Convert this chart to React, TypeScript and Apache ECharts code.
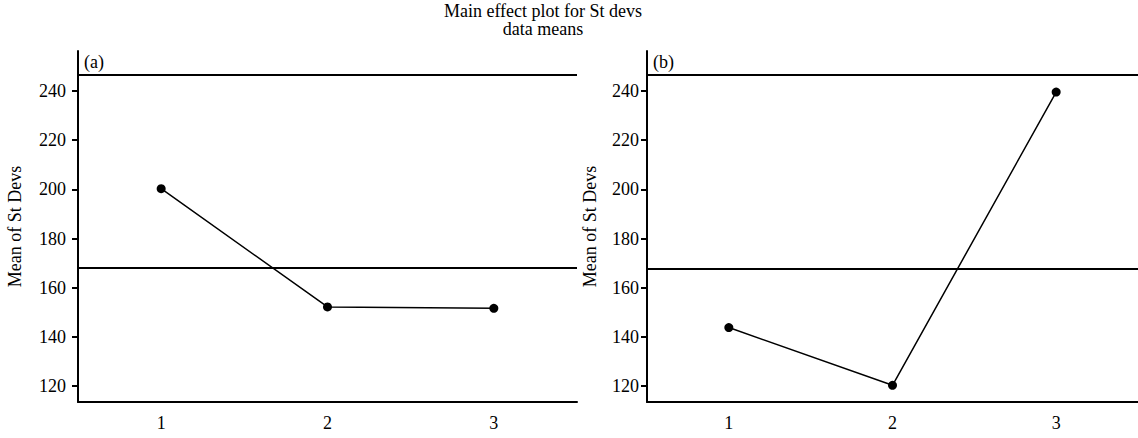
import React, { useEffect, useRef } from "react";
import * as echarts from "echarts";

const categories = ["1", "2", "3"];
const valuesA = [200.3, 152.2, 151.6];
const valuesB = [143.8, 120.3, 239.6];
const yTicks = [120, 140, 160, 180, 200, 220, 240];
const yMin = 113.5;
const yMax = 256.3;
const stripValue = 246.6;
const panelLabels = ["(a)", "(b)"];
const titleLines = ["Main effect plot for St devs", "data means"];
const yName = "Mean of St Devs";

const mean = (a: number[]) => a.reduce((s, v) => s + v, 0) / a.length;

const FONT = "'Liberation Serif', 'Times New Roman', serif";
const FS = 18;

export default function App() {
  const ref = useRef<HTMLDivElement>(null);
  useEffect(() => {
    if (!ref.current) return;
    const chart = echarts.init(ref.current, null, { renderer: "svg" });
    const grids = [
      { left: 78, top: 51, width: 499, height: 351 },
      { left: 647, top: 51, width: 499, height: 351 },
    ];
    const series: any[] = [];
    [valuesA, valuesB].forEach((vals, i) => {
      series.push({
        type: "line",
        xAxisIndex: i,
        yAxisIndex: i,
        data: vals,
        symbol: "circle",
        symbolSize: 9,
        itemStyle: { color: "#000" },
        lineStyle: { color: "#000", width: 1.5 },
        markLine: {
          silent: true,
          symbol: "none",
          label: { show: false },
          lineStyle: { color: "#000", width: 2, type: "solid" },
          data: [{ yAxis: mean(vals) }, { yAxis: stripValue }],
        },
      });
    });
    const axisText = { color: "#000", fontFamily: FONT, fontSize: FS };
    chart.setOption({
      animation: false,
      backgroundColor: "#fff",
      grid: grids.map((g) => ({ ...g, containLabel: false })),
      xAxis: [0, 1].map((i) => ({
        type: "category",
        gridIndex: i,
        data: categories,
        boundaryGap: true,
        axisLine: { lineStyle: { color: "#000", width: 2 } },
        axisTick: { alignWithLabel: true, length: 6, lineStyle: { color: "#000", width: 2 } },
        axisLabel: { ...axisText, margin: 12 },
        splitLine: { show: false },
      })),
      yAxis: [0, 1].map((i) => ({
        type: "value",
        gridIndex: i,
        min: yMin,
        max: yMax,
        name: yName,
        nameLocation: "middle",
        nameGap: i === 0 ? 54 : 48,
        nameTextStyle: { ...axisText },
        axisLine: { show: true, lineStyle: { color: "#000", width: 2 } },
        axisTick: { show: true, length: 6, customValues: yTicks, lineStyle: { color: "#000", width: 2 } },
        axisLabel: { ...axisText, margin: i === 0 ? 12 : 8, customValues: yTicks },
        splitLine: { show: false },
      })),
      series,
      graphic: [
        ...titleLines.map((t, i) => ({
          type: "text",
          x: 543,
          y: 2 + i * 18,
          style: {
            text: t,
            fontFamily: FONT,
            fontSize: 18,
            fill: "#000",
            align: "center",
          },
        })),
        ...panelLabels.map((t, i) => ({
          type: "text",
          x: grids[i].left + 6,
          y: 53,
          style: { text: t, fontFamily: FONT, fontSize: FS, fill: "#000" },
        })),
      ],
    });
    return () => chart.dispose();
  }, []);
  return (
    <div
      ref={ref}
      style={{ position: "fixed", left: 0, top: 0, width: 1138, height: 438, background: "#fff" }}
    />
  );
}
